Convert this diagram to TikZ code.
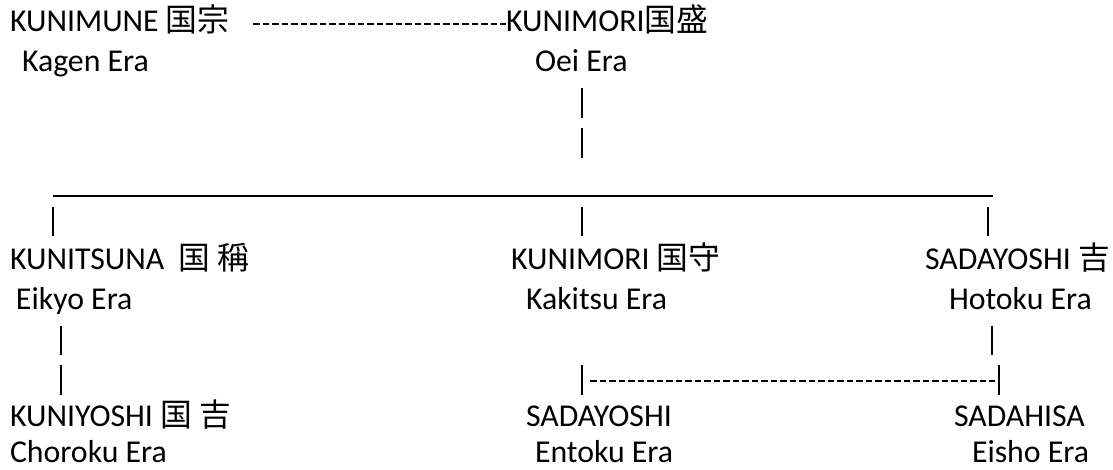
\documentclass[tikz,border=0pt]{standalone}
\usepackage{fontspec}
\setmainfont{Carlito}
\newfontfamily\cjk{Noto Sans CJK JP}
\tikzset{
  lbl/.style={anchor=base west, inner sep=0pt, outer sep=0pt, font=\fontsize{31.8}{38}\selectfont},
  bar/.style={line width=1.7pt},
  hy/.style={line width=2pt, dash pattern=on 6.5pt off 3pt},
  rule/.style={line width=2pt}
}
\begin{document}
\begin{tikzpicture}[x=1pt,y=-1pt]
\useasboundingbox (0,0) rectangle (1113,470);
% row 1-2
\node[lbl] (kunimune) at (10,32) {KUNIMUNE {\cjk 国宗}};
\node[lbl] (kagen) at (22,71.5) {Kagen Era};
\node[lbl] (kunimori1) at (506,32) {KUNIMORI{\cjk 国盛}};
\node[lbl] (oei) at (535,71.5) {Oei Era};
\coordinate (d1a) at (253,24.5);
\coordinate (d1b) at (506,24.5);
\draw[hy] (d1a) -- (d1b);
% vertical from Oei
\coordinate (p1a) at (582,88);
\coordinate (p1b) at (582,118);
\coordinate (p2a) at (582,128);
\coordinate (p2b) at (582,158);
\draw[bar] (p1a) -- (p1b);
\draw[bar] (p2a) -- (p2b);
% bus
\coordinate (busL) at (53,196);
\coordinate (busR) at (993,196);
\draw[rule] (busL) -- (busR);
\coordinate (q1a) at (53,207);
\coordinate (q1b) at (53,236.5);
\coordinate (q2a) at (582,207);
\coordinate (q2b) at (582,236.5);
\coordinate (q3a) at (988,207);
\coordinate (q3b) at (988,236.5);
\draw[bar] (q1a) -- (q1b);
\draw[bar] (q2a) -- (q2b);
\draw[bar] (q3a) -- (q3b);
% row 7-8
\node[lbl] (kunitsuna) at (10,269.5) {KUNITSUNA\ \ {\cjk 国} {\cjk 稱}};
\node[lbl] (eikyo) at (16,309) {Eikyo Era};
\node[lbl] (kunimori2) at (511,269.5) {KUNIMORI {\cjk 国守}};
\node[lbl] (kakitsu) at (526,309) {Kakitsu Era};
\node[lbl] (sadayoshi1) at (925,269.5) {SADAYOSHI {\cjk 吉}};
\node[lbl] (hotoku) at (949,309) {Hotoku Era};
% lower connectors
\coordinate (r1a) at (61,325.5);
\coordinate (r1b) at (61,355);
\coordinate (r2a) at (61,365);
\coordinate (r2b) at (61,394.5);
\draw[bar] (r1a) -- (r1b);
\draw[bar] (r2a) -- (r2b);
\coordinate (s1a) at (992,325.5);
\coordinate (s1b) at (992,355);
\draw[bar] (s1a) -- (s1b);
\coordinate (t1a) at (582,365);
\coordinate (t1b) at (582,394.5);
\coordinate (t2a) at (999,365);
\coordinate (t2b) at (999,394.5);
\draw[bar] (t1a) -- (t1b);
\draw[bar] (t2a) -- (t2b);
\coordinate (d2a) at (590,381);
\coordinate (d2b) at (995,381);
\draw[hy] (d2a) -- (d2b);
% row 11-12
\node[lbl] (kuniyoshi) at (10,426.5) {KUNIYOSHI {\cjk 国} {\cjk 吉}};
\node[lbl] (choroku) at (10,462) {Choroku Era};
\node[lbl] (sadayoshi2) at (526,426.5) {SADAYOSHI};
\node[lbl] (entoku) at (535,462) {Entoku Era};
\node[lbl] (sadahisa) at (954,426.5) {SADAHISA};
\node[lbl] (eisho) at (972,462) {Eisho Era};
\end{tikzpicture}
\end{document}
